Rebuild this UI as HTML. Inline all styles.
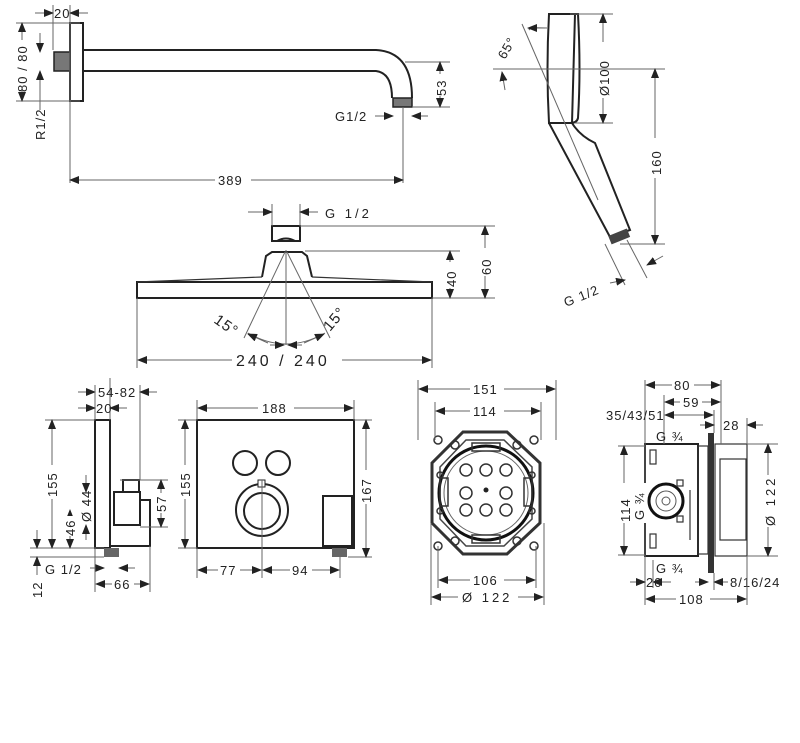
<!DOCTYPE html>
<html><head><meta charset="utf-8"><style>
html,body{margin:0;padding:0;background:#fff}
svg{display:block}
text{font-family:"Liberation Sans",sans-serif;font-size:13px;fill:#222;letter-spacing:1px}
.l{stroke:#666;stroke-width:1;fill:none}
.o{stroke:#222;stroke-width:2;fill:none}
.t{stroke:#333;stroke-width:1.2;fill:none}
</style></head><body>
<svg width="800" height="743" viewBox="0 0 800 743" xmlns="http://www.w3.org/2000/svg">
<defs>
<marker id="a" markerWidth="10" markerHeight="8" refX="9" refY="4" orient="auto-start-reverse" markerUnits="userSpaceOnUse"><path d="M0,0 L10,4 L0,8z" fill="#222"/></marker>
</defs>
<rect width="800" height="743" fill="#fff"/>

<!-- ===== Shower arm ===== -->
<rect x="70" y="23" width="13" height="78" class="o"/>
<rect x="54" y="52" width="16" height="19" fill="#777" stroke="#222" stroke-width="1.5"/>
<path class="o" d="M83 50 H376 Q412 52 412 98"/>
<path class="o" d="M83 71 H376 Q392 73 392 98"/>
<rect x="393" y="98" width="19" height="9" fill="#777" stroke="#222" stroke-width="1.5"/>
<line class="l" x1="53" y1="5" x2="53" y2="50"/><line class="l" x1="70" y1="5" x2="70" y2="183"/>
<line class="l" x1="35" y1="13" x2="53" y2="13" marker-end="url(#a)"/><line class="l" x1="88" y1="13" x2="70" y2="13" marker-end="url(#a)"/>
<text x="54" y="18">20</text>
<line class="l" x1="16" y1="23" x2="80" y2="23"/><line class="l" x1="16" y1="101" x2="80" y2="101"/>
<line class="l" x1="22" y1="23" x2="22" y2="101" marker-start="url(#a)" marker-end="url(#a)"/>
<rect x="15" y="40" width="14" height="50" fill="#fff"/>
<text transform="translate(27,92) rotate(-90)">80 / 80</text>
<line class="l" x1="40" y1="33" x2="40" y2="52" marker-end="url(#a)"/><line class="l" x1="40" y1="110" x2="40" y2="71" marker-end="url(#a)"/>
<text transform="translate(45,140) rotate(-90)">R1/2</text>
<line class="l" x1="403" y1="107" x2="403" y2="183"/>
<line class="l" x1="70" y1="180" x2="403" y2="180" marker-start="url(#a)" marker-end="url(#a)"/>
<rect x="215" y="172" width="36" height="14" fill="#fff"/><text x="218" y="185">389</text>
<line class="l" x1="405" y1="62" x2="450" y2="62"/><line class="l" x1="412" y1="107" x2="450" y2="107"/>
<line class="l" x1="440" y1="62" x2="440" y2="107" marker-start="url(#a)" marker-end="url(#a)"/>
<rect x="433" y="74" width="14" height="22" fill="#fff"/><text transform="translate(446,96) rotate(-90)">53</text>
<text x="335" y="121">G1/2</text>
<line class="l" x1="375" y1="116" x2="393" y2="116" marker-end="url(#a)"/><line class="l" x1="428" y1="116" x2="412" y2="116" marker-end="url(#a)"/>

<!-- ===== Hand shower ===== -->
<path class="o" d="M549 14 H575 L572 123 L549 123 Q546 70 549 14z"/>
<path class="o" d="M568 14 L578 14 Q581 70 578 118 Q577 123 570 123"/>
<path class="o" d="M549 123 L610 237 L630 230 L595 143 Q580 136 572 123"/>
<rect x="609" y="232" width="20" height="9" transform="rotate(-22 619 236)" fill="#444"/>
<line class="l" x1="570" y1="14" x2="613" y2="14"/><line class="l" x1="575" y1="123" x2="613" y2="123"/>
<line class="l" x1="603" y1="14" x2="603" y2="123" marker-start="url(#a)" marker-end="url(#a)"/>
<rect x="595" y="42" width="16" height="56" fill="#fff"/><text transform="translate(609,96) rotate(-90)">Ø100</text>
<line class="l" x1="493" y1="69" x2="665" y2="69"/><line class="l" x1="620" y1="244" x2="665" y2="244"/>
<line class="l" x1="655" y1="69" x2="655" y2="244" marker-start="url(#a)" marker-end="url(#a)"/>
<rect x="647" y="138" width="16" height="40" fill="#fff"/><text transform="translate(661,175) rotate(-90)">160</text>
<line class="l" x1="522" y1="24" x2="598" y2="200"/>
<path class="l" d="M547 28 Q525 27 530 30"/><line class="l" x1="545" y1="28" x2="528" y2="28" marker-end="url(#a)"/>
<line class="l" x1="505" y1="90" x2="502" y2="72" marker-end="url(#a)"/>
<text transform="translate(505,60) rotate(-60)">65°</text>
<line class="l" x1="605" y1="244" x2="625" y2="285"/><line class="l" x1="627" y1="240" x2="647" y2="278"/>
<text transform="translate(566,307) rotate(-22)">G 1/2</text>
<line class="l" x1="610" y1="283" x2="625" y2="280" marker-end="url(#a)"/>
<line class="l" x1="663" y1="256" x2="647" y2="265" marker-end="url(#a)"/>

<!-- ===== Rain shower ===== -->
<rect x="272" y="226" width="28" height="15" class="o"/>
<path class="o" d="M277 241 Q286 236 295 241"/>
<path class="o" d="M262 277 L266 256 L272 252 H302 L307 256 L312 277"/>
<path class="o" d="M137 282 H432 V298 H137z"/>
<path d="M137 282 L262 277 M312 277 L432 282" class="t"/>
<line class="l" x1="272" y1="204" x2="272" y2="226"/><line class="l" x1="300" y1="204" x2="300" y2="226"/>
<line class="l" x1="248" y1="212" x2="272" y2="212" marker-end="url(#a)"/><line class="l" x1="318" y1="212" x2="300" y2="212" marker-end="url(#a)"/>
<text x="325" y="218" style="letter-spacing:3px">G 1/2</text>
<line class="l" x1="300" y1="226" x2="495" y2="226"/><line class="l" x1="305" y1="251" x2="460" y2="251"/><line class="l" x1="432" y1="298" x2="495" y2="298"/>
<line class="l" x1="450" y1="251" x2="450" y2="298" marker-start="url(#a)" marker-end="url(#a)"/>
<rect x="442" y="262" width="16" height="26" fill="#fff"/><text transform="translate(456,287) rotate(-90)">40</text>
<line class="l" x1="485" y1="226" x2="485" y2="298" marker-start="url(#a)" marker-end="url(#a)"/>
<rect x="477" y="248" width="16" height="28" fill="#fff"/><text transform="translate(491,275) rotate(-90)">60</text>
<line class="l" x1="286" y1="250" x2="286" y2="345"/>
<line class="l" x1="285" y1="252" x2="244" y2="338"/><line class="l" x1="287" y1="252" x2="330" y2="338"/>
<path class="l" d="M248 333 Q286 355 325 333"/>
<line class="l" x1="268" y1="343" x2="248" y2="334" marker-end="url(#a)"/><line class="l" x1="304" y1="343" x2="324" y2="334" marker-end="url(#a)"/>
<line class="l" x1="270" y1="345" x2="284" y2="345" marker-end="url(#a)"/><line class="l" x1="302" y1="345" x2="288" y2="345" marker-end="url(#a)"/>
<text transform="translate(213,322) rotate(35)" style="font-size:15px">15°</text>
<text transform="translate(330,332) rotate(-50)" style="font-size:15px">15°</text>
<line class="l" x1="137" y1="298" x2="137" y2="368"/><line class="l" x1="432" y1="298" x2="432" y2="368"/>
<line class="l" x1="138" y1="360" x2="431" y2="360" marker-start="url(#a)" marker-end="url(#a)"/>
<rect x="232" y="350" width="110" height="18" fill="#fff"/><text x="236" y="366" style="font-size:16px;letter-spacing:3px">240 / 240</text>

<!-- ===== Side view mixer ===== -->
<rect x="95" y="420" width="15" height="128" class="o"/>
<rect x="114" y="492" width="26" height="33" class="o"/>
<rect x="123" y="480" width="16" height="12" class="o"/>
<path class="o" d="M140 500 H150 V546 H110"/>
<rect x="104" y="548" width="15" height="9" fill="#666"/>
<line class="l" x1="110" y1="378" x2="110" y2="420"/><line class="l" x1="140" y1="385" x2="140" y2="480"/>
<line class="l" x1="78" y1="392" x2="95" y2="392" marker-end="url(#a)"/><line class="l" x1="157" y1="392" x2="140" y2="392" marker-end="url(#a)"/>
<line class="l" x1="95" y1="385" x2="95" y2="420"/>
<text x="98" y="397">54-82</text>
<line class="l" x1="78" y1="408" x2="95" y2="408" marker-end="url(#a)"/><line class="l" x1="127" y1="408" x2="110" y2="408" marker-end="url(#a)"/>
<text x="96" y="413">20</text>
<line class="l" x1="45" y1="420" x2="95" y2="420"/><line class="l" x1="30" y1="548" x2="104" y2="548"/><line class="l" x1="30" y1="557" x2="104" y2="557"/>
<line class="l" x1="52" y1="420" x2="52" y2="548" marker-start="url(#a)" marker-end="url(#a)"/>
<rect x="45" y="465" width="14" height="34" fill="#fff"/><text transform="translate(57,497) rotate(-90)">155</text>
<line class="l" x1="70" y1="510" x2="70" y2="548" marker-start="url(#a)" marker-end="url(#a)"/>
<rect x="63" y="516" width="14" height="20" fill="#fff"/><text transform="translate(75,536) rotate(-90)">46</text>
<line class="l" x1="86" y1="475" x2="86" y2="492" marker-end="url(#a)"/><line class="l" x1="86" y1="540" x2="86" y2="525" marker-end="url(#a)"/>
<text transform="translate(91,522) rotate(-90)">Ø 44</text>
<line class="l" x1="37" y1="530" x2="37" y2="548" marker-end="url(#a)"/><line class="l" x1="37" y1="575" x2="37" y2="557" marker-end="url(#a)"/>
<text transform="translate(42,598) rotate(-90)">12</text>
<text x="45" y="574">G 1/2</text>
<line class="l" x1="90" y1="568" x2="104" y2="568" marker-end="url(#a)"/><line class="l" x1="135" y1="568" x2="119" y2="568" marker-end="url(#a)"/>
<line class="l" x1="95" y1="548" x2="95" y2="592"/><line class="l" x1="150" y1="546" x2="150" y2="592"/>
<line class="l" x1="96" y1="584" x2="149" y2="584" marker-start="url(#a)" marker-end="url(#a)"/>
<rect x="112" y="576" width="22" height="14" fill="#fff"/><text x="114" y="589">66</text>
<line class="l" x1="120" y1="480" x2="168" y2="480"/><line class="l" x1="140" y1="527" x2="168" y2="527"/>
<line class="l" x1="161" y1="480" x2="161" y2="527" marker-start="url(#a)" marker-end="url(#a)"/>
<rect x="154" y="493" width="14" height="20" fill="#fff"/><text transform="translate(166,512) rotate(-90)">57</text>

<!-- ===== Front plate ===== -->
<rect x="197" y="420" width="157" height="128" class="o"/>
<circle cx="245" cy="463" r="12" class="o"/><circle cx="278" cy="463" r="12" class="o"/>
<circle cx="262" cy="510" r="26" class="o"/><circle cx="262" cy="511" r="18" class="o"/>
<rect x="258" y="480" width="7" height="7" fill="#fff" stroke="#222"/>
<rect x="323" y="496" width="29" height="50" class="o"/>
<rect x="332" y="548" width="15" height="9" fill="#666"/>
<line class="l" x1="197" y1="400" x2="197" y2="420"/><line class="l" x1="354" y1="400" x2="354" y2="420"/>
<line class="l" x1="198" y1="408" x2="353" y2="408" marker-start="url(#a)" marker-end="url(#a)"/>
<rect x="258" y="400" width="36" height="15" fill="#fff"/><text x="262" y="413">188</text>
<line class="l" x1="178" y1="420" x2="197" y2="420"/><line class="l" x1="178" y1="548" x2="197" y2="548"/>
<line class="l" x1="185" y1="420" x2="185" y2="548" marker-start="url(#a)" marker-end="url(#a)"/>
<rect x="178" y="465" width="14" height="34" fill="#fff"/><text transform="translate(190,497) rotate(-90)">155</text>
<line class="l" x1="354" y1="420" x2="372" y2="420"/><line class="l" x1="348" y1="557" x2="372" y2="557"/>
<line class="l" x1="366" y1="420" x2="366" y2="557" marker-start="url(#a)" marker-end="url(#a)"/>
<rect x="359" y="470" width="14" height="34" fill="#fff"/><text transform="translate(371,503) rotate(-90)">167</text>
<line class="l" x1="197" y1="548" x2="197" y2="578"/><line class="l" x1="262" y1="480" x2="262" y2="578"/><line class="l" x1="340" y1="557" x2="340" y2="578"/>
<line class="l" x1="198" y1="570" x2="261" y2="570" marker-start="url(#a)" marker-end="url(#a)"/>
<line class="l" x1="263" y1="570" x2="339" y2="570" marker-start="url(#a)" marker-end="url(#a)"/>
<rect x="218" y="563" width="22" height="14" fill="#fff"/><text x="220" y="575">77</text>
<rect x="290" y="563" width="22" height="14" fill="#fff"/><text x="292" y="575">94</text>

<!-- ===== Installation box top ===== -->
<polygon points="463,432 507,432 540,463 540,523 507,554 463,554 432,523 432,463" fill="none" stroke="#333" stroke-width="3"/>
<polygon points="466,440 504,440 532,467 532,519 504,546 466,546 440,519 440,467" fill="none" stroke="#444" stroke-width="1.5"/>
<circle cx="486" cy="493" r="47" fill="none" stroke="#111" stroke-width="3"/>
<circle cx="486" cy="493" r="42" fill="none" stroke="#666" stroke-width="1"/>
<g fill="none" stroke="#333" stroke-width="1.5">
<circle cx="466" cy="470" r="6"/><circle cx="486" cy="470" r="6"/><circle cx="506" cy="470" r="6"/>
<circle cx="466" cy="493" r="6"/><circle cx="506" cy="493" r="6"/>
<circle cx="466" cy="510" r="6"/><circle cx="486" cy="510" r="6"/><circle cx="506" cy="510" r="6"/>
<circle cx="438" cy="440" r="4"/><circle cx="534" cy="440" r="4"/><circle cx="438" cy="546" r="4"/><circle cx="534" cy="546" r="4"/>
<circle cx="455" cy="445" r="4"/><circle cx="517" cy="445" r="4"/><circle cx="455" cy="541" r="4"/><circle cx="517" cy="541" r="4"/>
<circle cx="440" cy="475" r="3"/><circle cx="532" cy="475" r="3"/><circle cx="440" cy="511" r="3"/><circle cx="532" cy="511" r="3"/>
<rect x="472" y="443" width="28" height="8"/><rect x="472" y="535" width="28" height="8"/>
<rect x="440" y="478" width="8" height="28"/><rect x="524" y="478" width="8" height="28"/>
</g>
<circle cx="486" cy="490" r="2.5" fill="#222"/>
<line class="l" x1="418" y1="380" x2="418" y2="440"/><line class="l" x1="556" y1="380" x2="556" y2="440"/>
<line class="l" x1="419" y1="389" x2="555" y2="389" marker-start="url(#a)" marker-end="url(#a)"/>
<rect x="470" y="381" width="34" height="15" fill="#fff"/><text x="473" y="394">151</text>
<line class="l" x1="435" y1="402" x2="435" y2="440"/><line class="l" x1="541" y1="402" x2="541" y2="440"/>
<line class="l" x1="436" y1="411" x2="540" y2="411" marker-start="url(#a)" marker-end="url(#a)"/>
<rect x="470" y="403" width="34" height="15" fill="#fff"/><text x="473" y="416">114</text>
<line class="l" x1="438" y1="546" x2="438" y2="588"/><line class="l" x1="536" y1="546" x2="536" y2="588"/>
<line class="l" x1="439" y1="580" x2="535" y2="580" marker-start="url(#a)" marker-end="url(#a)"/>
<rect x="470" y="572" width="34" height="15" fill="#fff"/><text x="473" y="585">106</text>
<line class="l" x1="431" y1="523" x2="431" y2="605"/><line class="l" x1="544" y1="523" x2="544" y2="605"/>
<line class="l" x1="432" y1="597" x2="543" y2="597" marker-start="url(#a)" marker-end="url(#a)"/>
<rect x="458" y="589" width="60" height="15" fill="#fff"/><text x="462" y="602" style="letter-spacing:3px">Ø 122</text>

<!-- ===== Installation box side ===== -->
<rect x="645" y="444" width="53" height="112" class="o"/>
<rect x="698" y="446" width="10" height="108" class="t"/>
<rect x="708" y="433" width="6" height="140" fill="#333"/>
<rect x="715" y="444" width="32" height="112" class="t"/>
<rect x="720" y="459" width="26" height="81" class="t"/>
<circle cx="666" cy="501" r="17" fill="none" stroke="#111" stroke-width="3"/>
<circle cx="666" cy="501" r="10" fill="none" stroke="#555" stroke-width="1"/>
<circle cx="666" cy="501" r="4" fill="none" stroke="#555" stroke-width="1"/>
<g class="t"><rect x="677" y="480" width="6" height="6"/><rect x="677" y="516" width="6" height="6"/><rect x="650" y="450" width="6" height="14"/><rect x="650" y="534" width="6" height="14"/><line x1="690" y1="490" x2="690" y2="540"/></g>
<line class="l" x1="645" y1="380" x2="645" y2="605"/><line class="l" x1="721" y1="380" x2="721" y2="444"/>
<line class="l" x1="646" y1="385" x2="720" y2="385" marker-start="url(#a)" marker-end="url(#a)"/>
<rect x="672" y="377" width="22" height="15" fill="#fff"/><text x="674" y="390">80</text>
<line class="l" x1="664" y1="395" x2="664" y2="444"/>
<line class="l" x1="665" y1="402" x2="720" y2="402" marker-start="url(#a)" marker-end="url(#a)"/>
<rect x="680" y="395" width="22" height="14" fill="#fff"/><text x="683" y="407">59</text>
<text x="606" y="420">35/43/51</text>
<line class="l" x1="665" y1="415" x2="713" y2="415" marker-start="url(#a)" marker-end="url(#a)"/>
<line class="l" x1="714" y1="410" x2="714" y2="433"/>
<line class="l" x1="700" y1="425" x2="714" y2="425" marker-end="url(#a)"/><line class="l" x1="763" y1="425" x2="747" y2="425" marker-end="url(#a)"/>
<line class="l" x1="747" y1="418" x2="747" y2="444"/>
<text x="723" y="430">28</text>
<text x="656" y="441">G ¾</text>
<text x="656" y="573">G ¾</text>
<line class="l" x1="618" y1="446" x2="645" y2="446"/><line class="l" x1="618" y1="555" x2="645" y2="555"/>
<line class="l" x1="624" y1="446" x2="624" y2="555" marker-start="url(#a)" marker-end="url(#a)"/>
<rect x="616" y="483" width="30" height="40" fill="#fff"/>
<text transform="translate(630,522) rotate(-90)">114</text>
<text transform="translate(644,520) rotate(-90)">G ¾</text>
<line class="l" x1="747" y1="444" x2="778" y2="444"/><line class="l" x1="747" y1="556" x2="778" y2="556"/>
<line class="l" x1="768" y1="444" x2="768" y2="556" marker-start="url(#a)" marker-end="url(#a)"/>
<rect x="761" y="475" width="16" height="52" fill="#fff"/><text transform="translate(775,526) rotate(-90)" style="letter-spacing:3px">Ø 122</text>
<line class="l" x1="630" y1="582" x2="645" y2="582" marker-end="url(#a)"/><line class="l" x1="671" y1="582" x2="653" y2="582" marker-end="url(#a)"/>
<line class="l" x1="653" y1="560" x2="653" y2="588"/>
<text x="646" y="587">20</text>
<line class="l" x1="695" y1="582" x2="708" y2="582" marker-end="url(#a)"/><line class="l" x1="728" y1="582" x2="714" y2="582" marker-end="url(#a)"/>
<line class="l" x1="714" y1="573" x2="714" y2="590"/>
<text x="730" y="587">8/16/24</text>
<line class="l" x1="747" y1="556" x2="747" y2="605"/>
<line class="l" x1="646" y1="599" x2="746" y2="599" marker-start="url(#a)" marker-end="url(#a)"/>
<rect x="676" y="592" width="34" height="14" fill="#fff"/><text x="679" y="604">108</text>
</svg>
</body></html>
